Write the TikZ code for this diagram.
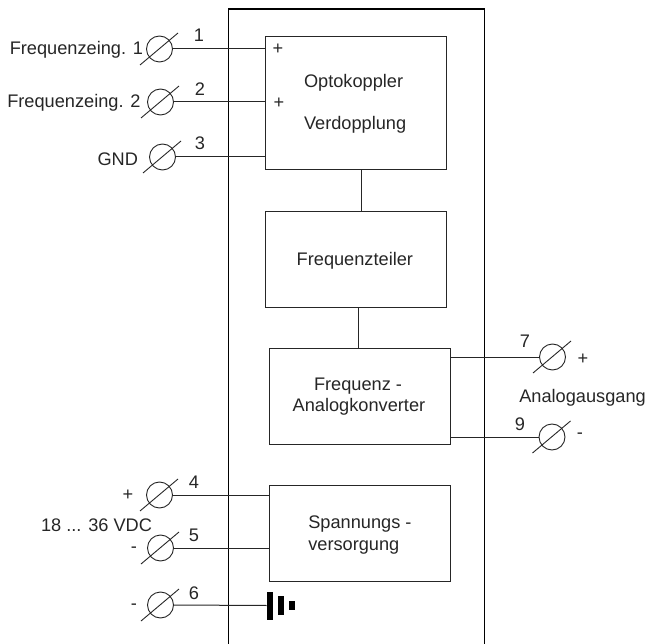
\documentclass[tikz,border=0pt]{standalone}
\usepackage{fontspec}
\setmainfont{Liberation Sans}
\usetikzlibrary{calc}
\tikzset{
  x=1pt,y=-1pt,
  every node/.style={font=\fontsize{18.2}{19}\selectfont,inner sep=0pt,outer sep=0pt,text=black!85},
  lab/.style={anchor=base west},
  labr/.style={anchor=base east},
  num/.style={anchor=base},
  wire/.style={line width=1pt,draw=black!85},
  frame/.style={line width=1.3pt,draw=black},
  blockbox/.style={draw=black!85,line width=1pt,anchor=north west,align=center},
  term/.style={circle,draw=black!85,line width=0.9pt,minimum size=26pt},
  battbar/.style={fill=black,draw=none,inner sep=0pt,minimum width=6pt},
}
\newcommand{\terminal}[2]{%
  \node[term] (#1) at (#2) {};
  \draw[wire,line width=0.9pt] ($(#1)+(-19.5,16)$) -- ($(#1)+(18.5,-16)$);
}
\newcommand{\blockat}[5]{%
  \node[blockbox,minimum width=#4pt,minimum height=#5pt] (#1) at (#2,#3) {};
}
\begin{document}
\begin{tikzpicture}
\useasboundingbox (0,0) rectangle (648,644);
% outer housing
\coordinate (fa) at (228.5,644);
\coordinate (fb) at (228.5,9);
\coordinate (fc) at (484.5,9);
\coordinate (fd) at (484.5,644);
\draw[frame] (fa) -- (fb) -- (fc) -- (fd);
% blocks
\blockat{b1}{265}{36.7}{181}{132.6}
\blockat{b2}{265}{212}{181}{96}
\blockat{b3}{269.7}{348.5}{181}{95.5}
\blockat{b4}{269.3}{485.7}{181}{95.3}
\node[lab] at (304,87.3) {Optokoppler};
\node[lab] at (304,129.3) {Verdopplung};
\node[lab] at (296.7,265.7) {Frequenzteiler};
\node[lab] at (314,390) {Frequenz -};
\node[lab] at (292.7,411) {Analogkonverter};
\node[lab] at (308.3,528.3) {Spannungs -};
\node[lab] at (308.3,550) {versorgung};
\node at (278,49.5) {+};
\node at (279,103) {+};
% block links
\draw[wire] (b1.south -| 361,0) -- (b2.north -| 361,0);
\draw[wire] (b2.south -| 358.7,0) -- (b3.north -| 358.7,0);
% terminals
\terminal{t1}{159.5,49}
\terminal{t2}{160.5,102}
\terminal{t3}{162.5,157}
\terminal{t4}{159.5,495}
\terminal{t5}{160.5,548}
\terminal{t6}{160.5,605}
\terminal{t7}{552.5,357}
\terminal{t9}{552,437}
% connectors
\draw[wire] (t1.east) -- (t1.east -| b1.west);
\draw[wire] (t2.east) -- (t2.east -| b1.west);
\draw[wire] (t3.east) -- (t3.east -| b1.west);
\draw[wire] (t4.east) -- (t4.east -| b4.west);
\draw[wire] (t5.east) -- (t5.east -| b4.west);
\draw[wire] (t7.west) -- (t7.west -| b3.east);
\draw[wire] (t9.west) -- (t9.west -| b3.east);
% battery
\node[battbar,minimum height=28pt] (bat1) at (269.5,605.5) {};
\node[battbar,minimum height=19pt] (bat2) at (280.5,605.5) {};
\node[battbar,minimum height=9pt] (bat3) at (291.5,605.5) {};
\draw[wire] (t6.east) -- (bat1.west);
% numbers
\node[num] at (199,41.7) {1};
\node[num] at (200,96) {2};
\node[num] at (200,150) {3};
\node[num] at (194,488) {4};
\node[num] at (194,541.7) {5};
\node[num] at (194,599) {6};
\node[num] at (525,347.3) {7};
\node[num] at (520,430) {9};
% labels
\node[labr] at (143,55) {Frequenzeing. 1};
\node[labr] at (140.5,107.3) {Frequenzeing. 2};
\node[labr] at (138,165.7) {GND};
\node at (128,495) {+};
\node at (134,550) {-};
\node at (134,607) {-};
\node[labr] at (152,531.7) {18 ... 36 VDC};
\node at (583,359) {+};
\node at (580,436) {-};
\node[lab] at (519.3,402.7) {Analogausgang};
\end{tikzpicture}
\end{document}
